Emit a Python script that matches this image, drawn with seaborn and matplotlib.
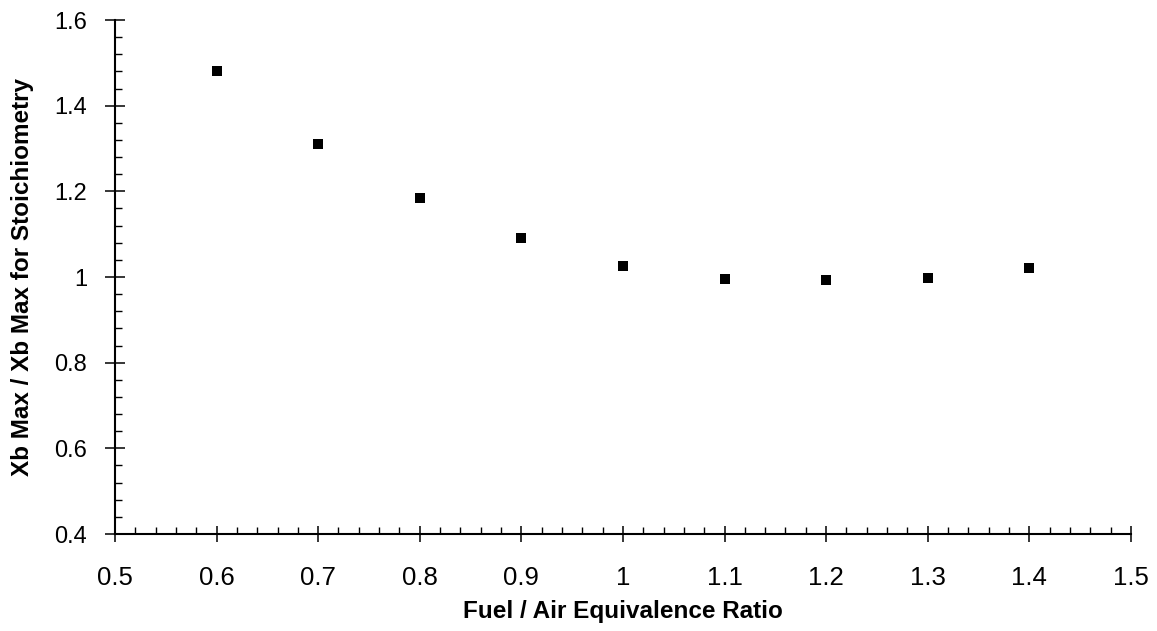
import numpy as np
import pandas as pd
import seaborn as sns
import matplotlib.pyplot as plt
from matplotlib.ticker import MultipleLocator

# ******************
# data
# ******************
equivalence_ratio = [0.6, 0.7, 0.8, 0.9, 1.0, 1.1, 1.2, 1.3, 1.4]
xb_max_ratio = [1.48, 1.31, 1.185, 1.09, 1.025, 0.995, 0.993, 0.998, 1.02]

x_ticks = [0.5, 0.6, 0.7, 0.8, 0.9, 1.0, 1.1, 1.2, 1.3, 1.4, 1.5]
x_tick_labels = ['0.5', '0.6', '0.7', '0.8', '0.9', '1', '1.1', '1.2', '1.3', '1.4', '1.5']
y_ticks = [0.4, 0.6, 0.8, 1.0, 1.2, 1.4, 1.6]
y_tick_labels = ['0.4', '0.6', '0.8', '1', '1.2', '1.4', '1.6']

df = pd.DataFrame({'phi': equivalence_ratio, 'ratio': xb_max_ratio})

# ******************
# plot
# ******************
sns.set_theme(style='ticks')
plt.rcParams['font.family'] = ['Liberation Sans', 'DejaVu Sans']
plt.rcParams['text.color'] = 'black'
plt.rcParams['axes.labelcolor'] = 'black'

fig = plt.figure(figsize=(11.57, 6.31), dpi=100)
ax = fig.add_axes([0.0994, 0.1537, 0.878, 0.8146])

sns.scatterplot(data=df, x='phi', y='ratio', marker='s', color='black',
                s=55, edgecolor='black', linewidth=0, ax=ax, legend=False)

ax.set_xlim(0.5, 1.5)
ax.set_ylim(0.4, 1.6)

ax.set_xticks(x_ticks)
ax.set_xticklabels(x_tick_labels)
ax.set_yticks(y_ticks)
ax.set_yticklabels(y_tick_labels)
ax.xaxis.set_minor_locator(MultipleLocator(0.02))
ax.yaxis.set_minor_locator(MultipleLocator(0.04))

sns.despine(ax=ax)
for side in ['left', 'bottom']:
    ax.spines[side].set_linewidth(1.5)
    ax.spines[side].set_color('black')

ax.tick_params(axis='x', which='major', direction='inout', length=12, width=1.1,
               pad=17, labelsize=18.5, colors='black')
ax.tick_params(axis='y', which='major', direction='inout', length=14, width=1.1,
               pad=13, labelsize=17, colors='black')
ax.tick_params(axis='both', which='minor', direction='in', length=5, width=1,
               colors='black')

ax.set_xlabel('Fuel / Air Equivalence Ratio', fontsize=17.5, fontweight='bold',
              labelpad=7, color='black')
ax.set_ylabel('Xb Max / Xb Max for Stoichiometry', fontsize=17.5, fontweight='bold',
              labelpad=15, color='black')

fig.savefig('out.png', dpi=100, facecolor='white')
